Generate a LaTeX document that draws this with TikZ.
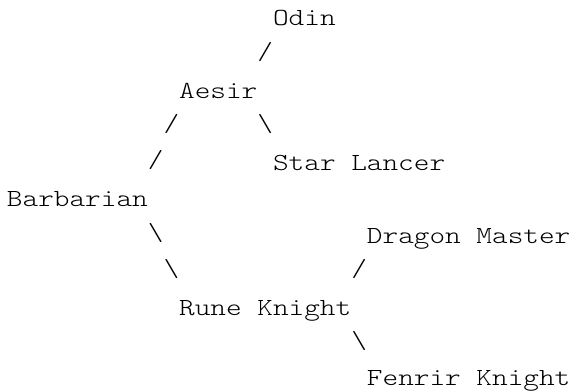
\documentclass[tikz,border=0pt]{standalone}
\usepackage{fontspec}
\setmonofont{Latin Modern Mono Light}[FakeStretch=1.215]
\begin{document}
\begin{tikzpicture}[x=0.75pt,y=-0.75pt,
  txt/.style={anchor=base west,inner sep=0pt,outer sep=0pt,
    font=\ttfamily\fontsize{18.4}{18.4}\selectfont,text=black},
  slash/.style={txt,yshift=2.25pt},
  lastrow/.style={txt,yshift=2pt}]
\useasboundingbox (0,0) rectangle (571,391);
% place text on a character grid: column, row
\newcommand\cell[5][txt]{\node[#1] (#2) at ({7+#3*15.65},{26+#4*36.2}) {#5};}
\cell{odin}{17}{0}{Odin}
\cell[slash]{sa}{16}{1}{/}
\cell{aesir}{11}{2}{Aesir}
\cell[slash]{sb}{10}{3}{/}
\cell[slash]{sc}{16}{3}{\textbackslash}
\cell[slash]{sd}{9}{4}{/}
\cell{star}{17}{4}{Star Lancer}
\cell{barb}{0}{5}{Barbarian}
\cell[slash]{se}{9}{6}{\textbackslash}
\cell{dragon}{23}{6}{Dragon Master}
\cell[slash]{sf}{10}{7}{\textbackslash}
\cell[slash]{sg}{22}{7}{/}
\cell{rune}{11}{8}{Rune Knight}
\cell[slash]{sh}{22}{9}{\textbackslash}
\cell[lastrow]{fenrir}{23}{10}{Fenrir Knight}
\end{tikzpicture}
\end{document}
